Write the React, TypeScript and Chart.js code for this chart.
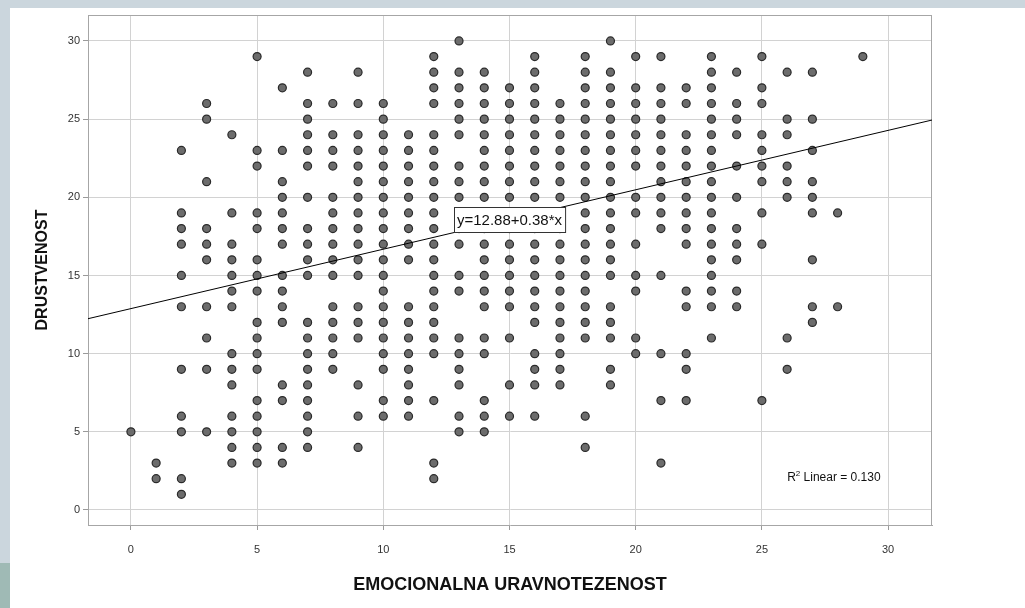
import React, { useEffect, useRef } from "react";
import { Chart, registerables } from "chart.js";

Chart.register(...registerables);

// ---- Data ----
const emocionalnaValues = [
  0, 1, 2, 3, 4, 5, 6, 7, 8, 9, 10, 11, 12, 13, 14, 15, 16, 17, 18, 19, 20, 21, 22, 23, 24, 25, 26, 27, 28, 29,
];

// DRUSTVENOST values observed for each EMOCIONALNA URAVNOTEZENOST value (same order as above)
const drustvenostByEmocionalna: number[][] = [
  [5],
  [3, 2],
  [23, 19, 18, 17, 15, 13, 9, 6, 5, 2, 1],
  [26, 25, 21, 18, 17, 16, 13, 11, 9, 5],
  [24, 19, 17, 16, 15, 14, 13, 10, 9, 8, 6, 5, 4, 3],
  [29, 23, 22, 19, 18, 16, 15, 14, 12, 11, 10, 9, 7, 6, 5, 4, 3],
  [27, 23, 21, 20, 19, 18, 17, 15, 14, 13, 12, 8, 7, 4, 3],
  [28, 26, 25, 24, 23, 22, 20, 18, 17, 16, 15, 12, 11, 10, 9, 8, 7, 6, 5, 4],
  [26, 24, 23, 22, 20, 19, 18, 17, 16, 15, 13, 12, 11, 10, 9],
  [28, 26, 24, 23, 22, 21, 20, 19, 18, 17, 16, 15, 13, 12, 11, 8, 6, 4],
  [26, 25, 24, 23, 22, 21, 20, 19, 18, 17, 16, 15, 14, 13, 12, 11, 10, 9, 7, 6],
  [24, 23, 22, 21, 20, 19, 18, 17, 16, 13, 12, 11, 10, 9, 8, 7, 6],
  [29, 28, 27, 26, 24, 23, 22, 21, 20, 19, 18, 17, 16, 15, 14, 13, 12, 11, 10, 7, 3, 2],
  [30, 28, 27, 26, 25, 24, 22, 21, 20, 19, 18, 17, 15, 14, 11, 10, 9, 8, 6, 5],
  [28, 27, 26, 25, 24, 23, 22, 21, 20, 19, 18, 17, 16, 15, 14, 13, 11, 10, 7, 6, 5],
  [27, 26, 25, 24, 23, 22, 21, 20, 19, 18, 17, 16, 15, 14, 13, 11, 8, 6],
  [29, 28, 27, 26, 25, 24, 23, 22, 21, 20, 19, 18, 17, 16, 15, 14, 13, 12, 10, 9, 8, 6],
  [26, 25, 24, 23, 22, 21, 20, 19, 18, 17, 16, 15, 14, 13, 12, 11, 10, 9, 8],
  [29, 28, 27, 26, 25, 24, 23, 22, 21, 20, 19, 18, 17, 16, 15, 14, 13, 12, 11, 6, 4],
  [30, 28, 27, 26, 25, 24, 23, 22, 21, 20, 19, 18, 17, 16, 15, 13, 12, 11, 9, 8],
  [29, 27, 26, 25, 24, 23, 22, 20, 19, 17, 15, 14, 11, 10],
  [29, 27, 26, 25, 24, 23, 22, 21, 20, 19, 18, 15, 10, 7, 3],
  [27, 26, 24, 23, 22, 21, 20, 19, 18, 17, 14, 13, 10, 9, 7],
  [29, 28, 27, 26, 25, 24, 23, 22, 21, 20, 19, 18, 17, 16, 15, 14, 13, 11],
  [28, 26, 25, 24, 22, 20, 18, 17, 16, 14, 13],
  [29, 27, 26, 24, 23, 22, 21, 19, 17, 7],
  [28, 25, 24, 22, 21, 20, 11, 9],
  [28, 25, 23, 21, 20, 19, 16, 13, 12],
  [19, 13],
  [29],
];

const xTickValues = [0, 5, 10, 15, 20, 25, 30];
const yTickValues = [0, 5, 10, 15, 20, 25, 30];

const FIT_INTERCEPT = 12.88;
const FIT_SLOPE = 0.38;
const FIT_LABEL = "y=12.88+0.38*x";
const R2_VALUE = "0.130";

const X_MIN = -1.7;
const X_MAX = 31.74;
const Y_MIN = -0.96;
const Y_MAX = 31.66;

const X_TITLE = "EMOCIONALNA URAVNOTEZENOST";
const Y_TITLE = "DRUSTVENOST";

const FONT = "'Liberation Sans', Arial, sans-serif";

const fit = (x: number) => FIT_INTERCEPT + FIT_SLOPE * x;

const decorPlugin = {
  id: "decor",
  beforeDatasetsDraw(chart: any) {
    const { ctx, chartArea } = chart;
    ctx.save();
    ctx.strokeStyle = "#a6a6a6";
    ctx.lineWidth = 1;
    ctx.beginPath();
    ctx.moveTo(chartArea.left, chartArea.top + 0.5);
    ctx.lineTo(chartArea.right, chartArea.top + 0.5);
    ctx.moveTo(chartArea.right - 0.5, chartArea.top);
    ctx.lineTo(chartArea.right - 0.5, chartArea.bottom);
    ctx.stroke();
    ctx.restore();
  },
  afterDatasetsDraw(chart: any) {
    const { ctx } = chart;
    const xs = chart.scales.x;
    const ys = chart.scales.y;
    ctx.save();
    // fit equation label box
    ctx.font = `15px ${FONT}`;
    const tw = ctx.measureText(FIT_LABEL).width;
    const cx = xs.getPixelForValue(15);
    const cy = ys.getPixelForValue(fit(15));
    const bw = tw + 6;
    const bh = 25;
    const bx = Math.round(cx - bw / 2) + 0.5;
    const by = Math.round(cy - bh / 2) + 0.5;
    ctx.fillStyle = "#ffffff";
    ctx.fillRect(bx, by, bw, bh);
    ctx.strokeStyle = "#333333";
    ctx.lineWidth = 1;
    ctx.strokeRect(bx, by, bw, bh);
    ctx.fillStyle = "#111111";
    ctx.textAlign = "center";
    ctx.textBaseline = "middle";
    ctx.fillText(FIT_LABEL, cx, cy + 1);

    // R² label
    const rx = xs.getPixelForValue(26.0);
    const ry = ys.getPixelForValue(1.85);
    ctx.textAlign = "left";
    ctx.textBaseline = "alphabetic";
    ctx.font = `12px ${FONT}`;
    ctx.fillStyle = "#111111";
    ctx.fillText("R", rx, ry);
    const rw = ctx.measureText("R").width;
    ctx.font = `8px ${FONT}`;
    ctx.fillText("2", rx + rw, ry - 5);
    const sw = ctx.measureText("2").width;
    ctx.font = `12px ${FONT}`;
    ctx.fillText(` Linear = ${R2_VALUE}`, rx + rw + sw, ry);
    ctx.restore();
  },
};

export default function App() {
  const canvasRef = useRef<HTMLCanvasElement | null>(null);

  useEffect(() => {
    const canvas = canvasRef.current;
    if (!canvas) return;

    const points: { x: number; y: number }[] = [];
    emocionalnaValues.forEach((xv, i) => {
      (drustvenostByEmocionalna[i] || []).forEach((yv) => points.push({ x: xv, y: yv }));
    });

    const chart = new Chart(canvas, {
      type: "scatter",
      data: {
        datasets: [
          {
            type: "line",
            data: [
              { x: X_MIN, y: fit(X_MIN) },
              { x: X_MAX, y: fit(X_MAX) },
            ],
            borderColor: "#000000",
            borderWidth: 1,
            pointRadius: 0,
            fill: false,
          } as any,
          {
            type: "scatter",
            data: points,
            pointRadius: 4,
            pointHoverRadius: 4,
            backgroundColor: "#6c6c6c",
            borderColor: "#2a2a2a",
            borderWidth: 1.2,
          },
        ],
      },
      options: {
        animation: false,
        responsive: false,
        maintainAspectRatio: false,
        events: [],
        layout: { padding: { left: 0, top: 15, right: 93, bottom: 0 } },
        plugins: {
          legend: { display: false },
          tooltip: { enabled: false },
        },
        scales: {
          x: {
            type: "linear",
            min: X_MIN,
            max: X_MAX,
            afterFit: (s: any) => {
              s.height = 83;
            },
            afterBuildTicks: (s: any) => {
              s.ticks = xTickValues.map((v) => ({ value: v }));
            },
            grid: { color: "#d2d2d2", lineWidth: 1, tickLength: 5, tickColor: "#9a9a9a", drawTicks: true },
            border: { display: true, color: "#a6a6a6", width: 1 },
            ticks: {
              font: { family: FONT, size: 11 },
              color: "#333333",
              padding: 13,
              maxRotation: 0,
              autoSkip: false,
            },
            title: {
              display: true,
              text: X_TITLE,
              font: { family: FONT, size: 18, weight: "bold" },
              color: "#111111",
              padding: { top: 0, bottom: 12 },
            },
          },
          y: {
            type: "linear",
            min: Y_MIN,
            max: Y_MAX,
            afterFit: (s: any) => {
              s.width = 88;
            },
            afterBuildTicks: (s: any) => {
              s.ticks = yTickValues.map((v) => ({ value: v }));
            },
            grid: { color: "#d2d2d2", lineWidth: 1, tickLength: 5, tickColor: "#9a9a9a", drawTicks: true },
            border: { display: true, color: "#a6a6a6", width: 1 },
            ticks: {
              font: { family: FONT, size: 11 },
              color: "#333333",
              padding: 3,
              autoSkip: false,
            },
            title: {
              display: true,
              text: Y_TITLE,
              font: { family: FONT, size: 16, weight: "bold" },
              color: "#111111",
              padding: { top: 33, bottom: 0 },
            },
          },
        },
      },
      plugins: [decorPlugin],
    });

    return () => {
      chart.destroy();
    };
  }, []);

  return (
    <div
      style={{
        position: "fixed",
        left: 0,
        top: 0,
        width: 1025,
        height: 608,
        background: "#cbd6dd",
        overflow: "hidden",
      }}
    >
      <div
        style={{
          position: "absolute",
          left: 0,
          top: 563,
          width: 10,
          height: 45,
          background: "#9fbab5",
        }}
      />
      <div
        style={{
          position: "absolute",
          left: 10,
          top: 8,
          right: 0,
          bottom: 0,
          background: "#ffffff",
        }}
      />
      <canvas
        ref={canvasRef}
        width={1025}
        height={608}
        style={{ position: "absolute", left: 0, top: 0, display: "block" }}
      />
    </div>
  );
}
